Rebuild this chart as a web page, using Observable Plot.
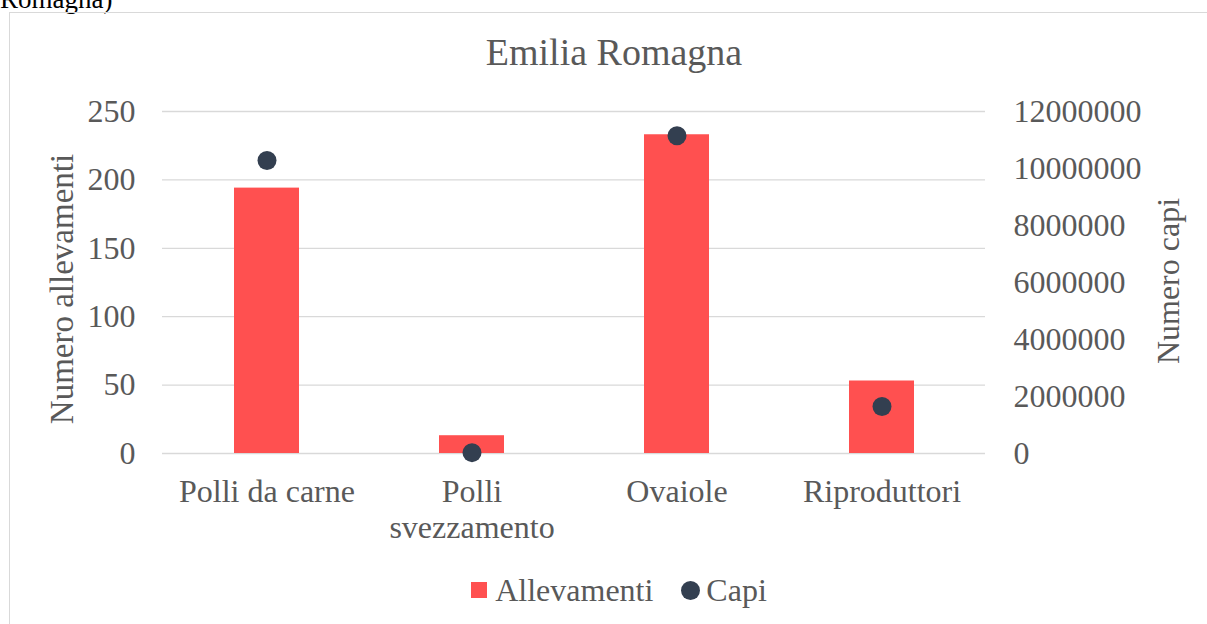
<!DOCTYPE html>
<html>
<head>
<meta charset="utf-8">
<script src="https://cdn.jsdelivr.net/npm/d3@7"></script>
<script src="https://cdn.jsdelivr.net/npm/@observablehq/plot@0.6"></script>
<style>
  html, body { margin: 0; padding: 0; background: #fff; }
  #wrap { position: relative; width: 1207px; height: 624px; overflow: hidden;
          font-family: "Liberation Serif", "Times New Roman", serif; color: #595959; }
  .pre { position: absolute; left: 0; top: -14.5px; font-size: 27px; line-height: 1; color: #000; }
  .frame { position: absolute; left: 9px; top: 12px; width: 1210px; height: 630px;
           border: 1.3px solid #d9d9d9; box-sizing: border-box; }
  .title { position: absolute; left: 0; width: 1228px; top: 33px; text-align: center;
           font-size: 38px; line-height: 1; }
  .ytitle { position: absolute; font-size: 32px; line-height: 1; white-space: nowrap;
            transform: translate(-50%, -50%) rotate(-90deg); }
  #chart { position: absolute; left: 0; top: 90px; }
  .legend { position: absolute; top: 574px; left: 0; width: 1238px; display: flex;
            justify-content: center; align-items: center; font-size: 32px; line-height: 1; }
  .legend .sw { display: inline-block; width: 16px; height: 16px; background: #FF5050; margin-right: 8px; }
  .legend .dt { display: inline-block; width: 19px; height: 19px; border-radius: 50%; background: #333F50; margin-right: 6px; margin-left: 28px; }
</style>
</head>
<body>
<div id="wrap">
  <div class="pre">Romagna)</div>
  <div class="frame"></div>
  <div class="title">Emilia Romagna</div>
  <div class="ytitle" style="left:62px; top:289px; font-size:33px;">Numero allevamenti</div>
  <div class="ytitle" style="left:1168px; top:281px;">Numero capi</div>
  <div id="chart"></div>
  <div class="legend">
    <span class="sw"></span><span>Allevamenti</span>
    <span class="dt"></span><span>Capi</span>
  </div>
</div>
<script>
const categories = ["Polli da carne", "Polli svezzamento", "Ovaiole", "Riproduttori"];
const tickLabels = ["Polli da carne", "Polli\nsvezzamento", "Ovaiole", "Riproduttori"];
const allevamenti = [194, 13, 233, 53];
const capi = [10280000, 30000, 11150000, 1650000];
const leftTicks = [0, 50, 100, 150, 200, 250];
const rightTicks = [0, 2000000, 4000000, 6000000, 8000000, 10000000, 12000000];

const allevMax = 250;
const capiMax = 12000000;
const toLeft = v => v / capiMax * allevMax;

const data = categories.map((c, i) => ({cat: c, allev: allevamenti[i], capi: capi[i]}));

const chart = Plot.plot({
  width: 1207,
  height: 470,
  marginLeft: 162,
  marginRight: 222,
  marginTop: 21,
  marginBottom: 107,
  style: {
    fontFamily: "'Liberation Serif', 'Times New Roman', serif",
    fontSize: "32px",
    color: "#595959",
    background: "transparent",
    overflow: "visible"
  },
  x: {domain: categories, paddingInner: 0.684, paddingOuter: 0.342},
  y: {domain: [0, allevMax]},
  marks: [
    Plot.gridY(leftTicks, {stroke: "#d9d9d9", strokeOpacity: 1, strokeWidth: 1.3}),
    Plot.barY(data, {x: "cat", y: "allev", fill: "#FF5050"}),
    Plot.dot(data, {x: "cat", y: d => toLeft(d.capi), r: 9.5, fill: "#333F50", stroke: "none"}),
    Plot.axisY(leftTicks, {anchor: "left", tickSize: 0, tickPadding: 27, label: null, fill: "#595959"}),
    Plot.axisY(rightTicks.map(toLeft), {
      anchor: "right", tickSize: 0, tickPadding: 28, label: null, fill: "#595959",
      tickFormat: d => String(Math.round(d / allevMax * capiMax))
    }),
    Plot.axisX({
      tickSize: 0, tickPadding: 23, label: null, fill: "#595959", lineHeight: 1.125,
      tickFormat: d => tickLabels[categories.indexOf(d)]
    })
  ]
});
document.getElementById("chart").appendChild(chart);
</script>
</body>
</html>
